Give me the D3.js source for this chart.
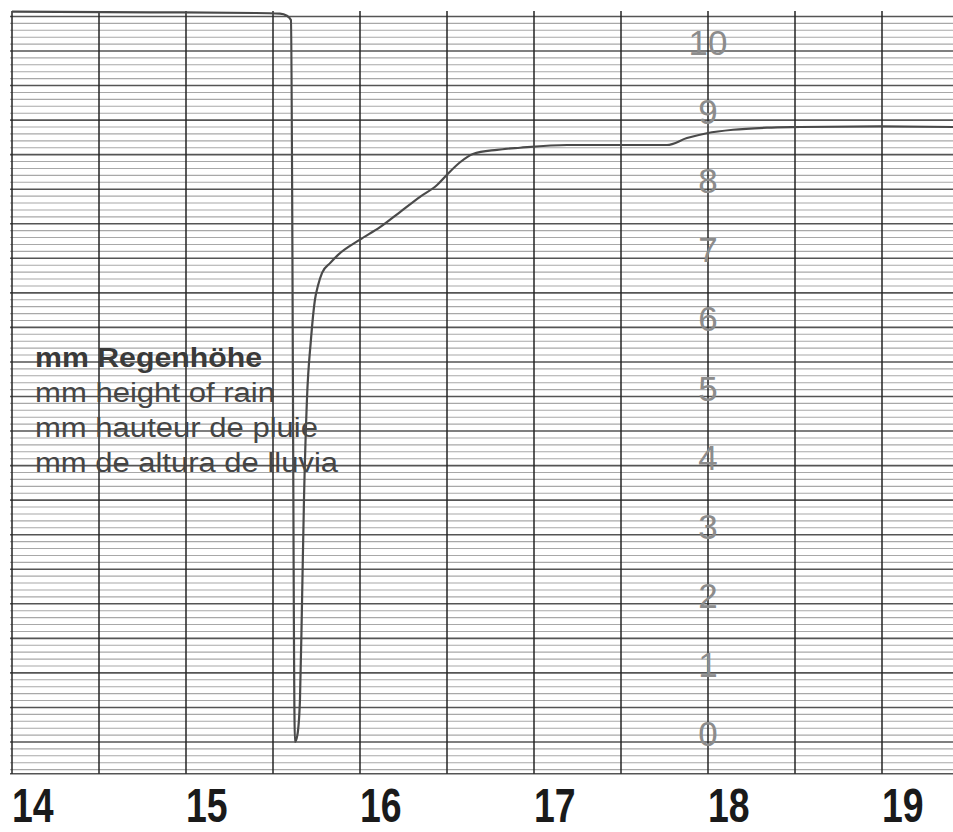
<!DOCTYPE html>
<html>
<head>
<meta charset="utf-8">
<script src="https://cdn.jsdelivr.net/npm/d3@7"></script>
<style>
  html, body { margin: 0; padding: 0; background: #fff; }
  svg { display: block; }
</style>
</head>
<body>
<svg id="chart" width="953" height="832"></svg>
<script>
const hourLabels = [14, 15, 16, 17, 18, 19];
const mmTicks = [0, 1, 2, 3, 4, 5, 6, 7, 8, 9, 10];
const legendLines = ["mm Regenhöhe", "mm height of rain", "mm hauteur de pluie", "mm de altura de lluvia"];
const legendWidths = [227, 240, 283, 303];

// pen trace: time (hours) and rain height (mm)
const traceTime = [14.000, 14.800, 15.400, 15.540, 15.580, 15.603, 15.626,
  15.640, 15.655, 15.667, 15.678, 15.695, 15.718, 15.741, 15.759, 15.782,
  15.828, 15.874, 16.000, 16.115, 16.230, 16.345, 16.443, 16.500, 16.575, 16.649,
  16.787, 16.920, 17.190, 17.494, 17.764, 17.879, 17.994, 18.144, 18.339, 18.529,
  18.989, 19.408];
const traceMM = [10.57, 10.56, 10.55, 10.54, 10.51, 10.45, 0.00,
  0.10, 0.61, 2.05, 3.50, 4.95, 5.82, 6.40, 6.61, 6.79,
  6.93, 7.05, 7.27, 7.45, 7.67, 7.89, 8.06, 8.21, 8.39, 8.51,
  8.57, 8.60, 8.64, 8.64, 8.64, 8.74, 8.81, 8.86, 8.89, 8.90,
  8.91, 8.90];

const svg = d3.select("#chart");
const x = d3.scaleLinear().domain([14, 19]).range([12, 882]);
const y = d3.scaleLinear().domain([0, 10]).range([742, 51]);

const tMin = 14, tMax = x.invert(953);
const vMin = -0.46, vMax = 10.58;

// ---- horizontal grid (0.1 mm minor, 0.5 mm major) ----
const hLines = d3.range(-4, 106).map(k => k / 10);
const isMajor = d => Math.abs(Math.round(d * 10) % 5) === 0;
svg.append("g").selectAll("line").data(hLines).join("line")
  .attr("x1", x(tMin) - 2).attr("x2", 953)
  .attr("y1", d => y(d)).attr("y2", d => y(d))
  .attr("stroke", d => isMajor(d) ? "#555" : "#a8a8a8")
  .attr("stroke-width", d => isMajor(d) ? 1.6 : 1.1);

// bottom border
svg.append("line")
  .attr("x1", x(tMin) - 2).attr("x2", 953)
  .attr("y1", y(vMin)).attr("y2", y(vMin))
  .attr("stroke", "#555").attr("stroke-width", 1.6);

// ---- vertical half-hour lines ----
const vLines = d3.range(14, tMax, 0.5);
svg.append("g").selectAll("line").data(vLines).join("line")
  .attr("x1", d => x(d)).attr("x2", d => x(d))
  .attr("y1", y(vMax)).attr("y2", y(vMin))
  .attr("stroke", "#252525").attr("stroke-width", 1.5);

// ---- mm labels on the 18:00 line ----
svg.append("g").selectAll("text").data(mmTicks).join("text")
  .attr("x", x(18)).attr("y", d => y(d) + 4)
  .attr("text-anchor", "middle")
  .attr("font-family", "Liberation Sans, Arial, sans-serif")
  .attr("font-size", 35)
  .attr("fill", "#8c8c8c")
  .text(d => d);

// ---- legend text ----
svg.append("g").selectAll("text").data(legendLines).join("text")
  .attr("x", 35).attr("y", (d, i) => 367 + i * 35)
  .attr("font-family", "Liberation Sans, Arial, sans-serif")
  .attr("font-size", 27)
  .attr("font-weight", (d, i) => i === 0 ? "bold" : "normal")
  .attr("fill", (d, i) => i === 0 ? "#3a3a3a" : "#454545")
  .attr("textLength", (d, i) => legendWidths[i])
  .attr("lengthAdjust", "spacingAndGlyphs")
  .text(d => d);

// ---- pen trace ----
const pts = traceTime.map((t, i) => [t, traceMM[i]]);
const line = d3.line().x(d => x(d[0])).y(d => y(d[1])).curve(d3.curveMonotoneX);
svg.append("path").datum(pts)
  .attr("d", line)
  .attr("fill", "none")
  .attr("stroke", "#4a4a4a")
  .attr("stroke-width", 2.2)
  .attr("stroke-linejoin", "round");

// ---- hour labels ----
svg.append("g").selectAll("text").data(hourLabels).join("text")
  .attr("transform", d => `translate(${x(d)},822) scale(0.78,1)`)
  .attr("font-family", "Liberation Sans Narrow, Liberation Sans, Arial, sans-serif")
  .attr("font-size", 48)
  .attr("font-weight", "bold")
  .attr("fill", "#1a1a1a")
  .text(d => d);
</script>
</body>
</html>
